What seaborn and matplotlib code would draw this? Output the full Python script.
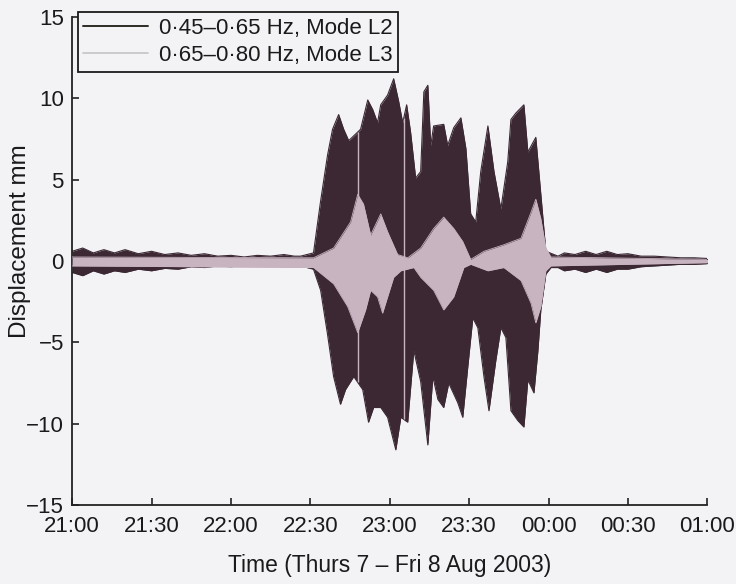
import numpy as np
import pandas as pd
import matplotlib
matplotlib.use("Agg")
import matplotlib.pyplot as plt
from matplotlib.lines import Line2D
import seaborn as sns

# Envelopes of the band-passed lateral displacement, minutes after 21:00 (Thu 7 Aug 2003)
l2_upper_t = [0, 4, 8, 12, 16, 20, 25, 30, 35, 40, 45, 50, 55, 60, 65, 70, 75, 80, 84, 86.3,
              91.2, 93.9, 96.5, 98.4, 100.7, 102.6, 104.5, 107.1, 109.0, 111.7, 113.6, 115.4,
              116.6, 119.2, 121.5, 123.4, 124.9, 126.4, 127.9, 129.8, 131.7, 132.9, 134.4,
              135.5, 136.6, 140.4, 141.9, 144.2, 146.9, 148.8, 150.6, 152.5, 154.4, 157.1,
              159.4, 162.0, 164.6, 165.8, 167.7, 170.7, 172.2, 175.2, 177.1, 179.0, 183.6,
              186, 190, 194, 198, 202, 206, 210, 215, 220, 225, 230, 235, 241]
l2_upper_v = [0.6, 0.8, 0.5, 0.7, 0.5, 0.7, 0.45, 0.6, 0.4, 0.5, 0.35, 0.45, 0.3, 0.35, 0.25,
              0.35, 0.3, 0.4, 0.3, 0.3,
              0.5, 3.7, 6.5, 8.1, 9.0, 8.1, 7.4, 7.8, 8.1, 9.9, 9.3, 8.5,
              9.6, 10.2, 11.2, 9.8, 8.5, 9.6, 7.9, 5.1, 5.5, 10.4, 10.8,
              7.1, 8.3, 8.4, 7.1, 8.2, 8.8, 6.9, 2.9, 2.4, 5.5, 8.3,
              5.5, 3.2, 6.1, 8.7, 9.1, 9.6, 6.7, 7.6, 4.1, 0.6, 0.3,
              0.5, 0.4, 0.6, 0.4, 0.6, 0.4, 0.45, 0.3, 0.3, 0.25, 0.2, 0.2, 0.15]

l2_lower_t = [0, 4, 8, 12, 16, 20, 25, 30, 35, 40, 45, 50, 55, 60, 65, 70, 75, 80, 86.3,
              91.2, 93.9, 96.5, 98.8, 101.4, 103.3, 106.4, 109.8, 112.0, 113.9, 116.6, 119.2,
              122.3, 124.2, 126.8, 129.1, 131.7, 134.4, 136.3, 138.2, 140.4, 142.3, 145.7,
              147.6, 149.5, 151.4, 153.3, 155.6, 157.5, 160.1, 162.0, 163.9, 165.8, 168.4,
              170.7, 172.2, 174.5, 176.0, 177.1, 179.0, 180.9, 183.6, 186, 190, 194, 198,
              202, 206, 210, 215, 220, 225, 230, 235, 241]
l2_lower_v = [-0.7, -0.9, -0.6, -0.8, -0.6, -0.7, -0.5, -0.6, -0.45, -0.5, -0.35, -0.4, -0.3,
              -0.35, -0.25, -0.3, -0.25, -0.3, -0.3,
              -0.5, -1.8, -4.5, -7.1, -8.8, -7.9, -7.1, -7.9, -9.9, -9.0, -9.0, -9.6,
              -11.6, -9.6, -9.9, -5.5, -7.4, -11.3, -7.1, -8.5, -9.0, -7.5, -8.7,
              -9.6, -6.5, -3.5, -4.1, -7.1, -9.2, -6.1, -4.1, -4.7, -9.2, -9.8,
              -10.2, -7.3, -8.1, -5.5, -3.0, -0.8, -0.4, -0.4, -0.6, -0.5, -0.7, -0.5,
              -0.7, -0.5, -0.5, -0.35, -0.3, -0.25, -0.2, -0.2, -0.15]

l3_upper_t = [0, 91.2, 98.8, 105.2, 107.9, 110.1, 112.8, 116.6, 119.2, 123.0, 126.8, 131.7,
              136.6, 140.4, 144.2, 147.6, 150.6, 155.6, 163.1, 169.6, 173.4, 175.2, 177.1,
              179.0, 180.9, 241]
l3_upper_v = [0.25, 0.2, 0.8, 2.4, 4.1, 3.5, 1.6, 2.9, 1.8, 0.4, 0.2, 0.8,
              2.0, 2.7, 2.0, 1.2, 0.1, 0.6, 1.0, 1.4, 3.0, 3.8, 2.6,
              0.8, 0.25, 0.1]

l3_lower_t = [0, 91.2, 98.8, 104.1, 107.9, 110.9, 112.8, 115.4, 117.3, 119.2, 121.5, 124.2,
              129.1, 131.7, 136.6, 140.4, 144.2, 148.0, 150.6, 157.1, 163.1, 169.6, 173.4,
              175.2, 177.1, 179.0, 180.9, 241]
l3_lower_v = [-0.3, -0.4, -1.4, -2.8, -4.4, -3.0, -1.8, -2.2, -3.2, -2.2, -1.0, -0.6,
              -0.4, -1.0, -1.8, -3.0, -2.2, -0.4, -0.2, -0.6, -0.4, -1.2, -2.6,
              -3.8, -2.8, -0.6, -0.3, -0.1]

# Short data dropouts that show up as thin light streaks
dropout_t = [107.9, 125.3]

series_labels = ["0\u00b745\u20130\u00b765 Hz, Mode L2", "0\u00b765\u20130\u00b780 Hz, Mode L3"]
tick_labels = ["21:00", "21:30", "22:00", "22:30", "23:00", "23:30", "00:00", "00:30", "01:00"]

start = pd.Timestamp("2003-08-07 21:00")


def to_time(minutes):
    return start + pd.to_timedelta(np.asarray(minutes, dtype=float), unit="m")


dark = "#3b2833"
pink = "#c8b3c1"
paper = "#f3f3f6"
ink = "#1a1a1a"

sns.set_theme(style="ticks")
plt.rcParams["font.family"] = ["Liberation Sans", "DejaVu Sans"]

fig = plt.figure(figsize=(7.36, 5.84), dpi=100, facecolor=paper)
ax = fig.add_axes([0.098, 0.135, 0.863, 0.836], facecolor=paper)

# Mode L2 band: dense oscillation shown as its filled envelope
grid = np.union1d(l2_upper_t, l2_lower_t)
up2 = np.interp(grid, l2_upper_t, l2_upper_v)
lo2 = np.interp(grid, l2_lower_t, l2_lower_v)
env2 = pd.DataFrame({"time": to_time(grid), "upper": up2, "lower": lo2})
ax.fill_between(env2["time"], env2["lower"], env2["upper"], color=dark, lw=0)
sns.lineplot(data=env2, x="time", y="upper", ax=ax, color=dark, lw=0.8)
sns.lineplot(data=env2, x="time", y="lower", ax=ax, color=dark, lw=0.8)

# Dropout streaks across the L2 envelope
for t in dropout_t:
    hi = np.interp(t, l2_upper_t, l2_upper_v)
    lo = np.interp(t, l2_lower_t, l2_lower_v)
    ax.vlines(to_time([t]), lo, hi, color=pink, lw=1.0, zorder=3)

# Mode L3 band on top
grid3 = np.union1d(l3_upper_t, l3_lower_t)
up3 = np.interp(grid3, l3_upper_t, l3_upper_v)
lo3 = np.interp(grid3, l3_lower_t, l3_lower_v)
env3 = pd.DataFrame({"time": to_time(grid3), "upper": up3, "lower": lo3})
ax.fill_between(env3["time"], env3["lower"], env3["upper"], color=pink, lw=0, zorder=4)
sns.lineplot(data=env3, x="time", y="upper", ax=ax, color=pink, lw=0.6, zorder=4)
sns.lineplot(data=env3, x="time", y="lower", ax=ax, color=pink, lw=0.6, zorder=4)

ax.set_xlim(start, start + pd.Timedelta(hours=4))
ax.set_ylim(-15, 15)
ticks = [start + pd.Timedelta(minutes=30 * i) for i in range(len(tick_labels))]
ax.set_xticks(ticks)
ax.set_xticklabels(tick_labels)
ax.set_yticks([-15, -10, -5, 0, 5, 10, 15])
ax.set_yticklabels(["\u221215", "\u221210", "\u22125", "0", "5", "10", "15"])

for side in ("top", "right"):
    ax.spines[side].set_visible(False)
for side in ("left", "bottom"):
    ax.spines[side].set_linewidth(1.3)
    ax.spines[side].set_color("#222222")
ax.tick_params(axis="both", direction="in", length=5, width=1.2, colors="#222222",
               labelsize=16, labelcolor=ink)
ax.tick_params(axis="x", pad=8)
ax.tick_params(axis="y", pad=6)

ax.set_xlabel("Time (Thurs 7 \u2013 Fri 8 Aug 2003)", fontsize=16.5, color=ink, labelpad=12)
ax.set_ylabel("Displacement mm", fontsize=17.5, color=ink)
ax.yaxis.set_label_coords(-0.064, 0.54)

handles = [Line2D([], [], color="#2e2b24", lw=1.4), Line2D([], [], color="#c4c4c4", lw=1.2)]
leg = ax.legend(handles, series_labels, loc="upper left", bbox_to_anchor=(0.009, 1.01),
                fontsize=16, frameon=True, fancybox=False, handlelength=2.9,
                borderpad=0.25, labelspacing=0.3, handletextpad=0.5, borderaxespad=0)
leg.get_frame().set_edgecolor(ink)
leg.get_frame().set_linewidth(1.3)
leg.get_frame().set_facecolor(paper)
leg.get_frame().set_alpha(1)
for txt in leg.get_texts():
    txt.set_color(ink)

fig.savefig("out.png", dpi=100, facecolor=paper)
